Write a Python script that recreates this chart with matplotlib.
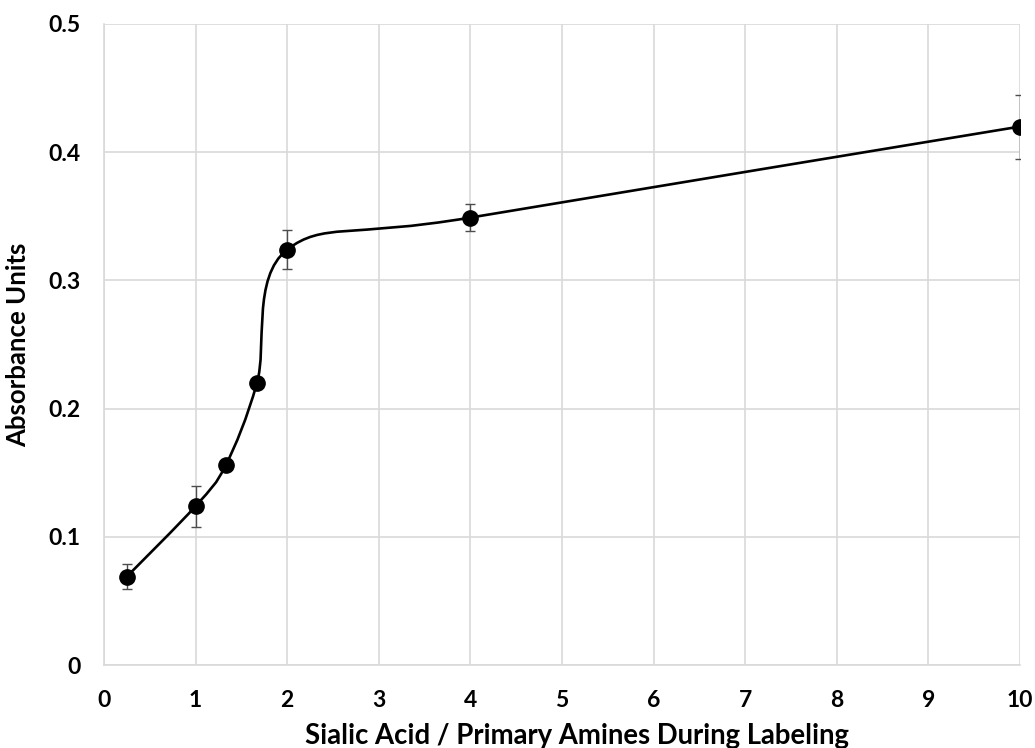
import numpy as np
import matplotlib
matplotlib.use("Agg")
import matplotlib.pyplot as plt
from matplotlib.path import Path
from matplotlib.patches import PathPatch

x_vals = [0.25, 1.0, 1.33, 1.67, 2.0, 4.0, 10.0]
y_vals = [0.069, 0.124, 0.156, 0.220, 0.324, 0.349, 0.420]
y_err = [0.010, 0.016, 0.0, 0.0, 0.015, 0.0105, 0.025]
x_ticks = [0, 1, 2, 3, 4, 5, 6, 7, 8, 9, 10]
y_ticks = [0, 0.1, 0.2, 0.3, 0.4, 0.5]
y_ticklabels = ["0", "0.1", "0.2", "0.3", "0.4", "0.5"]
x_label = "Sialic Acid / Primary Amines During Labeling"
y_label = "Absorbance Units"

plt.rcParams['font.family'] = ['Lato', 'DejaVu Sans']
plt.rcParams['font.weight'] = 'bold'

fig = plt.figure(figsize=(10.35, 7.48), dpi=100)
ax = fig.add_axes([104/1035, 1-665/748, (1020-104)/1035, (665-24)/748])

# Excel-style smoothed line: cubic Bezier with Catmull-Rom control points
pts = np.column_stack([x_vals, y_vals])
n = len(pts)
verts = [tuple(pts[0])]
codes = [Path.MOVETO]
for i in range(n - 1):
    p0 = pts[i - 1] if i > 0 else pts[i]
    p1 = pts[i]
    p2 = pts[i + 1]
    p3 = pts[i + 2] if i + 2 < n else pts[i + 1]
    c1 = p1 + (p2 - p0) / 6.0
    c2 = p2 - (p3 - p1) / 6.0
    verts += [tuple(c1), tuple(c2), tuple(p2)]
    codes += [Path.CURVE4] * 3
ax.add_patch(PathPatch(Path(verts, codes), facecolor='none', edgecolor='black',
                       lw=1.9, zorder=3))

ax.errorbar(x_vals, y_vals, yerr=y_err, fmt='none', ecolor='#4d4d4d',
            elinewidth=1.0, capsize=3.5, capthick=1.0, zorder=2)
ax.plot(x_vals, y_vals, 'o', color='black', markersize=11, zorder=4, linestyle='none')

ax.set_xlim(0, 10)
ax.set_ylim(0, 0.5)
ax.set_xticks(x_ticks)
ax.set_yticks(y_ticks)
ax.set_yticklabels(y_ticklabels)
ax.grid(True, color='#d9d9d9', lw=1.2, zorder=0)
ax.set_axisbelow(True)
for s in ['top', 'right']:
    ax.spines[s].set_visible(False)
for s in ['left', 'bottom']:
    ax.spines[s].set_color('#d9d9d9')
    ax.spines[s].set_linewidth(1.2)
ax.tick_params(axis='both', length=0, labelsize=16.5)
ax.tick_params(axis='x', pad=18)
ax.tick_params(axis='y', pad=17)
for lab in ax.get_xticklabels() + ax.get_yticklabels():
    lab.set_fontweight('bold')

ax.set_xlabel(x_label, fontsize=19.8, fontweight='bold')
ax.xaxis.set_label_coords(0.516, -0.09)
ax.set_ylabel(y_label, fontsize=18.5, fontweight='bold', labelpad=13)

fig.savefig('out.png', dpi=100)
